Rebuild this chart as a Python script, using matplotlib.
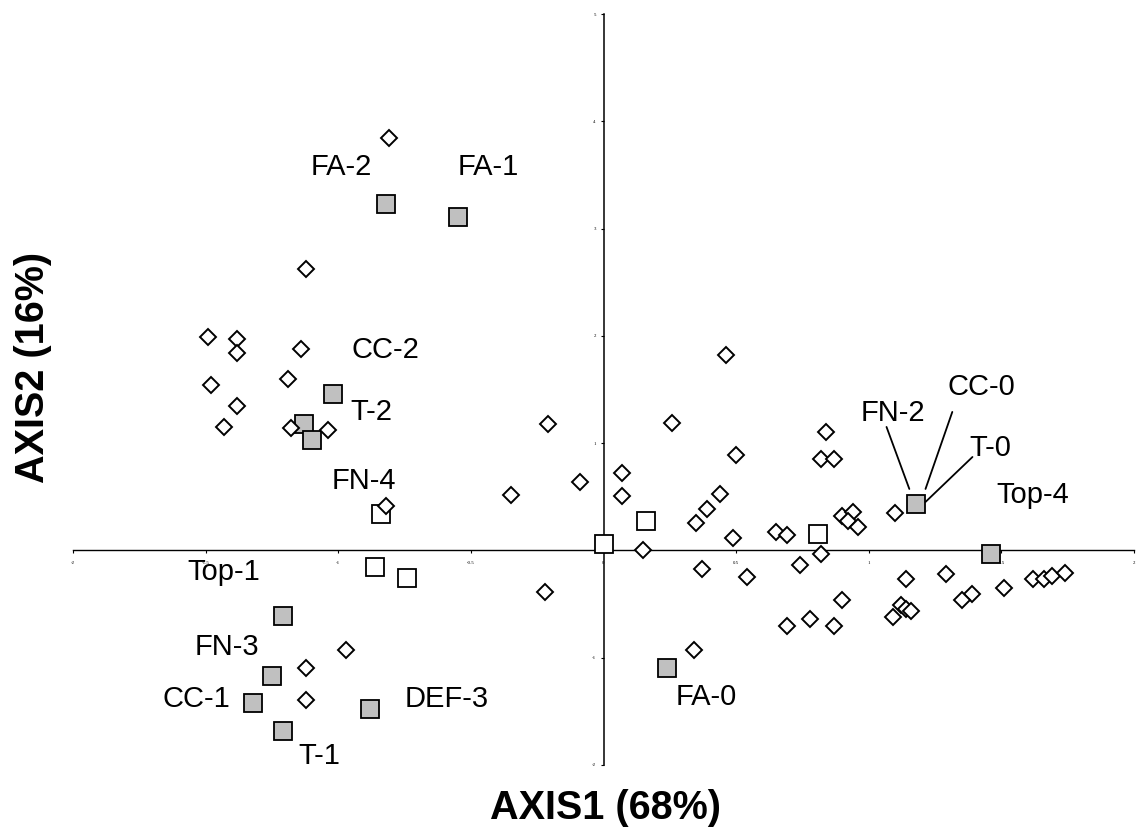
import matplotlib
matplotlib.use("Agg")
import matplotlib.pyplot as plt

plt.rcParams['font.family'] = ['Liberation Sans', 'DejaVu Sans']

# ---- data (AXIS1, AXIS2 scores) ----
var_x = [-0.81, -1.12, -1.49, -1.38, -1.38, -1.14, -1.48, -1.38, -1.43, -1.19,
         -1.18, -1.04, -0.82, -0.35, -0.09, -0.21, -0.22, -1.12, -1.12, -0.97,
         0.46, 0.26, 0.84, 0.50, 0.82, 0.87, 0.07, 0.07, 0.44, 0.39,
         0.35, 0.49, 0.65, 0.69, 0.90, 0.94, 0.92, 0.96, 1.10, 0.15,
         0.82, 0.37, 0.54, 0.74, 0.90, 0.78, 0.69, 0.87, 1.09, 1.12,
         1.14, 1.16, 0.34, 1.14, 1.29, 1.39, 1.35, 1.51, 1.62, 1.66,
         1.69, 1.74]
var_y = [3.84, 2.62, 1.99, 1.97, 1.84, 1.88, 1.54, 1.35, 1.15, 1.60,
         1.14, 1.12, 0.41, 0.52, 0.64, 1.18, -0.39, -1.10, -1.39, -0.93,
         1.82, 1.19, 1.10, 0.89, 0.85, 0.85, 0.72, 0.51, 0.53, 0.39,
         0.26, 0.12, 0.17, 0.14, 0.32, 0.36, 0.27, 0.22, 0.35, 0.00,
         -0.03, -0.17, -0.25, -0.14, -0.46, -0.64, -0.70, -0.70, -0.62, -0.51,
         -0.55, -0.56, -0.93, -0.27, -0.22, -0.41, -0.46, -0.35, -0.27, -0.27,
         -0.24, -0.21]

grey_x = [-0.82, -0.55, -1.02, -1.13, -1.10, -1.21, -1.25, -1.32, -1.21, -0.88, 0.24, 1.18, 1.46]
grey_y = [3.23, 3.11, 1.46, 1.18, 1.03, -0.61, -1.17, -1.42, -1.68, -1.48, -1.10, 0.43, -0.03]

white_x = [-0.84, -0.86, -0.74, 0.00, 0.16, 0.81]
white_y = [0.34, -0.15, -0.26, 0.06, 0.27, 0.15]

labels = ['FA-2', 'FA-1', 'CC-2', 'T-2', 'FN-4', 'Top-1', 'FN-3', 'CC-1',
          'DEF-3', 'T-1', 'FA-0', 'FN-2', 'CC-0', 'T-0', 'Top-4']
label_x = [-0.988, -0.433, -0.822, -0.874, -0.905, -1.432, -1.421, -1.534,
           -0.592, -1.070, 0.388, 1.093, 1.425, 1.459, 1.617]
label_y = [3.500, 3.500, 1.794, 1.216, 0.573, -0.275, -0.974, -1.458,
           -1.458, -1.990, -1.440, 1.207, 1.449, 0.881, 0.443]

# leader lines (label -> point) for the crowded labels
leaders = [((1.067, 1.151), (1.153, 0.573)),
           ((1.315, 1.291), (1.214, 0.573)),
           ((1.391, 0.871), (1.214, 0.452))]

xticks = [-2, -1.5, -1, -0.5, 0, 0.5, 1, 1.5, 2]
yticks = [-2, -1, 0, 1, 2, 3, 4, 5]

# ---- figure ----
fig = plt.figure(figsize=(11.37, 8.35), dpi=100)
ax = fig.add_axes([73/1137, 1-765/835, (1134-73)/1137, (765-14)/835])
ax.set_xlim(-2, 2)
ax.set_ylim(-2, 5)

for s in ['top', 'right']:
    ax.spines[s].set_visible(False)
ax.spines['left'].set_position('zero')
ax.spines['bottom'].set_position('zero')
ax.spines['left'].set_linewidth(1.1)
ax.spines['bottom'].set_linewidth(1.0)

ax.set_xticks(xticks)
ax.set_yticks(yticks)
ax.set_xticklabels([f'{v:g}' for v in xticks], fontsize=3.5, family='Liberation Serif')
ax.set_yticklabels([f'{v:g}' for v in yticks], fontsize=3.5, family='Liberation Serif')
ax.tick_params(axis='x', direction='out', length=2.5, width=0.8, pad=5, colors='black')
ax.tick_params(axis='y', direction='out', length=2.5, width=0.8, pad=3, colors='black')

ax.plot(grey_x, grey_y, linestyle='none', marker='s', markersize=12.8,
        markerfacecolor='#c0c0c0', markeredgecolor='black', markeredgewidth=1.3, zorder=3)
ax.plot(white_x, white_y, linestyle='none', marker='s', markersize=12.8,
        markerfacecolor='white', markeredgecolor='black', markeredgewidth=1.3, zorder=3)
ax.plot(var_x, var_y, linestyle='none', marker='D', markersize=8.3,
        markerfacecolor='white', markeredgecolor='black', markeredgewidth=1.4, zorder=4)

for t, lx, ly in zip(labels, label_x, label_y):
    ax.text(lx, ly, t, fontsize=21, ha='center', va='baseline', color='black', zorder=5)

for (x0, y0), (x1, y1) in leaders:
    ax.annotate('', xy=(x1, y1), xytext=(x0, y0),
                arrowprops=dict(arrowstyle='-', lw=1.3, color='black',
                                shrinkA=0, shrinkB=0), zorder=5)

fig.text(605/1137, 1-808/835, 'AXIS1 (68%)', fontsize=28.5, fontweight='bold',
         ha='center', va='center')
fig.text(33/1137, 1-367/835, 'AXIS2 (16%)', fontsize=28.5, fontweight='bold',
         ha='center', va='center', rotation=90)

fig.savefig('out.png', dpi=100)
